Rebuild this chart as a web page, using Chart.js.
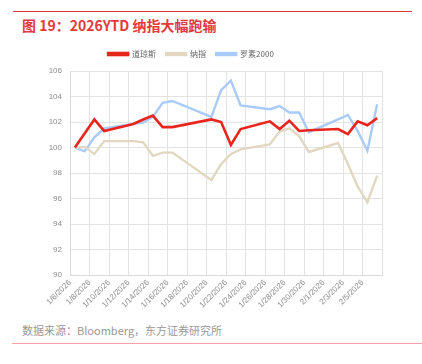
<!DOCTYPE html>
<html>
<head>
<meta charset="utf-8">
<script src="https://cdn.jsdelivr.net/npm/chart.js@4/dist/chart.umd.min.js"></script>
<style>
  body { margin: 0; width: 422px; height: 364px; background: #fff; position: relative; overflow: hidden;
         font-family: "Noto Sans CJK SC", "Liberation Sans", sans-serif; }
  .top-line { position: absolute; left: 13px; right: 10px; top: 11px; height: 1px; background: #e4393c; }
  .title { position: absolute; left: 22px; top: 15px; font-size: 14px; font-weight: bold; color: #e4393c; }
  .wrap { position: absolute; left: 0; top: 40px; width: 422px; height: 275px; }
  .source { position: absolute; left: 22px; top: 322px; font-size: 11px; color: #999; }
  .bottom-line { position: absolute; left: 12px; right: 0; top: 343px; height: 1px; background: #f4a3a3; }
</style>
</head>
<body>
<div class="top-line"></div>
<div class="title">图 19：2026YTD 纳指大幅跑输</div>
<div class="wrap"><canvas id="chart"></canvas></div>
<div class="source">数据来源：Bloomberg，东方证券研究所</div>
<div class="bottom-line"></div>
<script>
// 交易日
const dates = ['2026-01-06', '2026-01-07', '2026-01-08', '2026-01-09', '2026-01-12', '2026-01-13',
    '2026-01-14', '2026-01-15', '2026-01-16', '2026-01-20', '2026-01-21', '2026-01-22', '2026-01-23',
    '2026-01-26', '2026-01-27', '2026-01-28', '2026-01-29', '2026-01-30', '2026-02-02', '2026-02-03',
    '2026-02-04', '2026-02-05', '2026-02-06'];

// 道琼斯
const dow = [100, 101.1, 102.2, 101.3, 101.85, 102.2, 102.5, 101.6, 101.6, 102.2, 102.0, 100.2,
    101.45, 102.05, 101.45, 102.1, 101.3, 101.35, 101.45, 101.05, 102.05, 101.75, 102.3];

// 纳指
const nasdaq = [100, 100.05, 99.5, 100.5, 100.5, 100.4, 99.35, 99.6, 99.6, 97.45, 98.7, 99.5,
    99.85, 100.25, 101.25, 101.5, 100.9, 99.65, 100.35, 98.7, 96.95, 95.7, 97.8];

// 罗素2000
const russell = [100, 99.7, 100.8, 101.5, 101.85, 101.95, 102.4, 103.5, 103.65, 102.4, 104.5, 105.25,
    103.3, 103.0, 103.25, 102.75, 102.75, 101.2, 102.2, 102.55, 101.3, 99.75, 103.4];

const seriesNames = ['道琼斯', '纳指', '罗素2000'];
const seriesColors = ['#e8251d', '#e2d8c2', '#a9cbfb'];

const startDate = new Date('2026-01-06T00:00:00');
const DAY = 864e5;

// 日期轴：每个交易日落在当天格子的中间
function toPoints(values) {
    return values.map((v, i) => ({
        x: (new Date(dates[i] + 'T00:00:00') - startDate) / DAY + 0.5,
        y: v
    }));
}

function dayLabel(n) {
    const d = new Date(startDate.getTime() + n * DAY);
    return `${d.getMonth() + 1}/${d.getDate()}/${d.getFullYear()}`;
}

// 图例下方多留一点空隙
const legendGap = {
    id: 'legendGap',
    beforeInit(chart) {
        const fit = chart.legend.fit;
        chart.legend.fit = function () {
            fit.call(this);
            this.height += 3;
        };
    }
};

const seriesData = [dow, nasdaq, russell];

new Chart(document.getElementById('chart'), {
    type: 'line',
    data: {
        datasets: seriesData.map((vals, i) => ({
            label: seriesNames[i],
            data: toPoints(vals),
            borderColor: seriesColors[i],
            backgroundColor: seriesColors[i],
            borderWidth: i === 0 ? 2.6 : 2.4,
            tension: 0,
            pointRadius: 0,
            fill: false
        }))
    },
    options: {
        responsive: true,
        maintainAspectRatio: false,
        animation: false,
        layout: { padding: { left: 0, right: 40, top: 0, bottom: 0 } },
        plugins: {
            legend: {
                position: 'top',
                labels: {
                    boxWidth: 20,
                    boxHeight: 2,
                    padding: 10,
                    color: '#666',
                    font: { size: 8, family: '"Noto Sans CJK SC", sans-serif' }
                }
            },
            tooltip: { enabled: false }
        },
        scales: {
            x: {
                type: 'linear',
                min: 0,
                max: 32,
                ticks: {
                    stepSize: 2,
                    maxRotation: 45,
                    minRotation: 45,
                    color: '#8c8c8c',
                    font: { size: 8, family: '"Liberation Sans", sans-serif' },
                    callback: (v) => v < 32 ? dayLabel(v) : ''
                },
                grid: { color: '#e3e3e3', lineWidth: 1, drawTicks: false },
                border: { color: '#d9d9d9' },
                afterFit: (s) => { s.height = 40; }
            },
            y: {
                min: 90,
                max: 106,
                ticks: {
                    stepSize: 2,
                    color: '#8c8c8c',
                    padding: 8,
                    font: { size: 8, family: '"Liberation Sans", sans-serif' }
                },
                grid: { color: '#e3e3e3', lineWidth: 1, drawTicks: false },
                border: { color: '#d9d9d9' },
                afterFit: (s) => { s.width = 70; }
            }
        }
    },
    plugins: [legendGap]
});
</script>
</body>
</html>
